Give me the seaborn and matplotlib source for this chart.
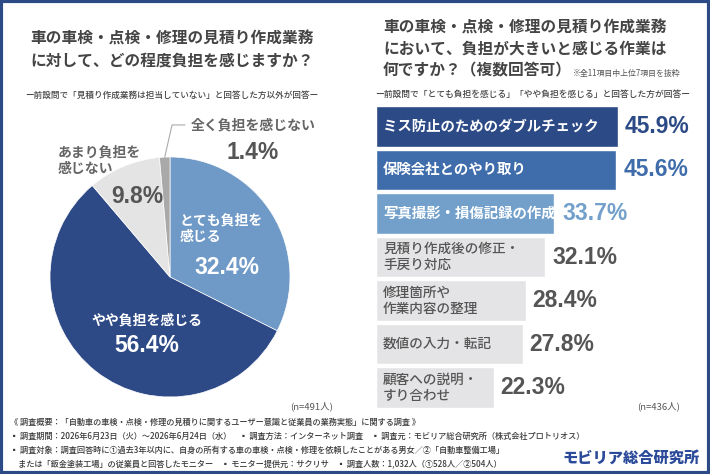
import matplotlib
matplotlib.use("Agg")
import matplotlib.pyplot as plt
import numpy as np
import pandas as pd
import seaborn as sns
from matplotlib.patches import Rectangle

# ---- data ----
pie_labels = ["とても負担を\n感じる", "やや負担を感じる", "あまり負担を\n感じない", "全く負担を感じない"]
pie_values = [32.4, 56.4, 9.8, 1.4]
pie_colors = ["#6f9ac7", "#2d4a87", "#e4e4e4", "#a9a9a9"]

tasks = [
    "ミス防止のためのダブルチェック",
    "保険会社とのやり取り",
    "写真撮影・損傷記録の作成",
    "見積り作成後の修正・\n手戻り対応",
    "修理箇所や\n作業内容の整理",
    "数値の入力・転記",
    "顧客への説明・\nすり合わせ",
]
task_pct = [45.9, 45.6, 33.7, 32.1, 28.4, 27.8, 22.3]
bar_colors = ["#2c4a86", "#3f6dab", "#72a0cb", "#e4e4e6", "#e4e4e6", "#e4e4e6", "#e4e4e6"]
pct_colors = ["#2c4a86", "#3f6dab", "#72a0cb", "#555555", "#555555", "#555555", "#555555"]
label_colors = ["white", "white", "white", "#555555", "#555555", "#555555", "#555555"]

left_title = ["車の車検・点検・修理の見積り作成業務", "に対して、どの程度負担を感じますか？"]
left_sub = "ー前設問で「見積り作成業務は担当していない」と回答した方以外が回答ー"
right_title = ["車の車検・点検・修理の見積り作成業務", "において、負担が大きいと感じる作業は", "何ですか？（複数回答可）"]
right_note = "※全11項目中上位7項目を抜粋"
right_sub = "ー前設問で「とても負担を感じる」「やや負担を感じる」と回答した方が回答ー"
footer = [
    "《 調査概要：「自動車の車検・点検・修理の見積りに関するユーザー意識と従業員の業務実態」に関する調査 》",
    "▪ 調査期間：2026年6月23日（火）～2026年6月24日（水）　▪ 調査方法：インターネット調査　▪ 調査元：モビリア総合研究所（株式会社プロトリオス）",
    "▪ 調査対象：調査回答時に①過去3年以内に、自身の所有する車の車検・点検・修理を依頼したことがある男女／②「自動車整備工場」",
    "　または「鈑金塗装工場」の従業員と回答したモニター　▪ モニター提供元：サクリサ　▪ 調査人数：1,032人（①528人／②504人）",
]

sns.set_style("white")
plt.rcParams["font.family"] = ["Noto Sans CJK JP", "DejaVu Sans"]
NUM_FONT = ["Liberation Sans", "DejaVu Sans"]

W, H = 710, 474
fig = plt.figure(figsize=(W / 100, H / 100), dpi=100)
fig.patch.set_facecolor("white")


def px(x, y):
    return x / W, 1 - y / H


def ftext(x, y, s, **kw):
    fig.text(*px(x, y), s, **kw)


# frame
fig.patches.append(Rectangle((0.002, 0.003), 0.996, 0.994, transform=fig.transFigure,
                             fill=False, edgecolor="#2c4a86", linewidth=3))

# titles
for i, line in enumerate(left_title):
    ftext(30, 39 + i * 22, line, fontsize=11.3, fontweight="bold", color="#444444", va="center")
ftext(172, 95, left_sub, fontsize=6.2, fontweight="medium", color="#444444", ha="center", va="center")
for i, line in enumerate(right_title):
    ftext(383, 28 + i * 21, line, fontsize=11.3, fontweight="bold", color="#444444", va="center")
ftext(573, 73, right_note, fontsize=5.7, color="#555555", va="center")
ftext(533, 94, right_sub, fontsize=6.3, fontweight="medium", color="#444444", ha="center", va="center")

# ---- pie ----
ax_pie = fig.add_axes([50 / W, (H - 397) / H, 240 / W, 240 / H])
ax_pie.pie(pie_values, colors=pie_colors, startangle=90, counterclock=False,
           wedgeprops=dict(edgecolor="white", linewidth=0.5))
ax_pie.set_xlim(-1, 1)
ax_pie.set_ylim(-1, 1)
ax_pie.axis("off")

lab_kw = dict(fontsize=10, fontweight="bold", linespacing=1.25)
num_kw = dict(fontsize=16.5, fontweight="bold", family=NUM_FONT)
# とても
ax_pie.text(0.083, 0.40, pie_labels[0], color="white", ha="left", va="center", **lab_kw)
ax_pie.text(0.475, 0.083, f"{pie_values[0]}%", color="white", ha="center", va="center", **num_kw)
# やや
ax_pie.text(-0.19, -0.358, pie_labels[1], color="white", ha="center", va="center", **lab_kw)
ax_pie.text(-0.19, -0.567, f"{pie_values[1]}%", color="white", ha="center", va="center", **num_kw)
# あまり
ax_pie.text(-0.933, 0.967, pie_labels[2], color="#666666", ha="left", va="center", **lab_kw)
ax_pie.text(-0.275, 0.667, f"{pie_values[2]}%", color="#555555", ha="center", va="center", **num_kw)
# 全く
ax_pie.text(0.69, 1.267, pie_labels[3], color="#666666", ha="center", va="center", **lab_kw)
ax_pie.text(0.69, 1.04, f"{pie_values[3]}%", color="#555555", ha="center", va="center", **num_kw)
ax_pie.plot([-0.044, 0.017, 0.125], [0.999, 1.267, 1.267], color="#aaaaaa", linewidth=0.8, clip_on=False)

ftext(333, 406, "(n=491人)", fontsize=6.8, color="#555555", ha="right", va="center")

# ---- bars ----
df = pd.DataFrame({"task": tasks, "pct": task_pct})
ax_bar = fig.add_axes([376 / W, (H - 409.3) / H, 324 / W, 304.6 / H])
sns.barplot(data=df, x="pct", y="task", hue="task", palette=dict(zip(tasks, bar_colors)),
            legend=False, width=0.94, orient="h", saturation=1, ax=ax_bar)
ax_bar.set_xlim(0, 324 / 5.27)
ax_bar.set_ylim(6.5, -0.5)
ax_bar.set_xlabel("")
ax_bar.set_ylabel("")
ax_bar.set_xticks([])
ax_bar.set_yticks([])
for s in ax_bar.spines.values():
    s.set_visible(False)

label_texts = []
for i, (t, v) in enumerate(zip(tasks, task_pct)):
    big = i < 3
    txt = ax_bar.text(1.33, i, t, color=label_colors[i], ha="left", va="center",
                      fontsize=10.4 if big else 9.8, fontweight="bold" if big else "medium",
                      linespacing=1.2)
    label_texts.append(txt)

fig.canvas.draw()
renderer = fig.canvas.get_renderer()
inv = ax_bar.transData.inverted()
for i, v in enumerate(task_pct):
    bar_end = ax_bar.transData.transform((v, i))[0]
    lab_end = label_texts[i].get_window_extent(renderer).x1
    x_disp = max(bar_end, lab_end) + 7
    x_data = inv.transform((x_disp, 0))[0]
    ax_bar.text(x_data, i, f"{v}%", color=pct_colors[i], ha="left", va="center",
                clip_on=False, **num_kw)

ftext(680, 406, "(n=436人)", fontsize=6.8, color="#555555", ha="right", va="center")

# ---- footer ----
for i, line in enumerate(footer):
    ftext(10, 422 + i * 14, line, fontsize=5.9, fontweight="medium", color="#3a3a3a", va="center")
ftext(700, 458, "モビリア総合研究所", fontsize=11, fontweight="heavy", color="#2c4a9a",
      ha="right", va="center")

fig.savefig("out.png", dpi=100, facecolor="white")
